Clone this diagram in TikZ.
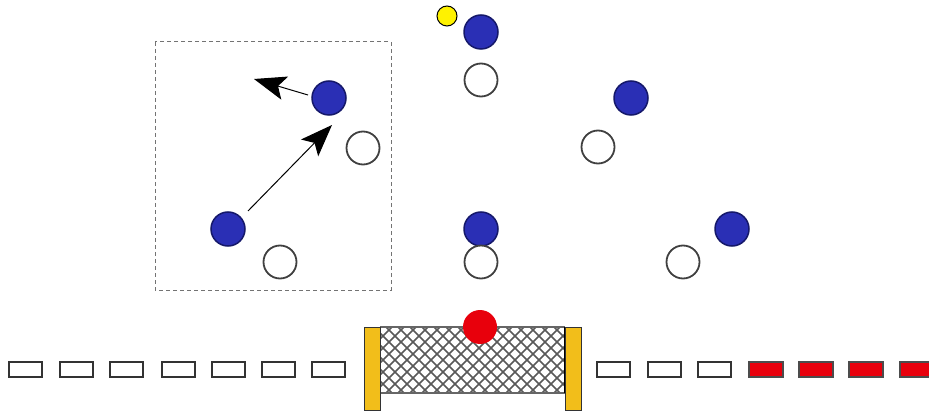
\documentclass[tikz,border=0pt]{standalone}
\usetikzlibrary{arrows.meta}
\definecolor{pblue}{HTML}{2A2FB5}
\definecolor{pblueD}{HTML}{15186A}
\definecolor{postY}{HTML}{F2BE1A}
\definecolor{lred}{HTML}{E8000C}
\tikzset{
  bluep/.style={circle,draw=pblueD,fill=pblue,line width=1.5pt,minimum size=34pt,inner sep=0pt},
  whitep/.style={circle,draw=black!75,fill=white,line width=1.8pt,minimum size=33pt,inner sep=0pt},
  yball/.style={circle,draw=black,fill=yellow,line width=1pt,minimum size=20pt,inner sep=0pt},
  rball/.style={circle,draw=none,fill=lred,minimum size=34pt,inner sep=0pt},
  wdash/.style={draw=black!80,fill=white,line width=2pt},
  rdash/.style={draw=black!70,fill=lred,line width=2pt},
  post/.style={draw=black!80,fill=postY,line width=1pt},
  netline/.style={draw=black!65,line width=1.5pt},
  mvarrow/.style={draw=black,line width=1pt,-{Stealth[length=32pt,width=24pt,inset=7pt]}},
  zone/.style={draw=black!55,line width=1pt,dash pattern=on 4pt off 3pt}
}
\begin{document}
\begin{tikzpicture}[x=1pt,y=-1pt]
\useasboundingbox (0,0) rectangle (929,414);
% zone
\draw[zone] (155,42) rectangle (391,290);
% net
\begin{scope}
  \clip (380,327) rectangle (565,393);
  \foreach \s in {0,12,...,264} {
    \draw[netline] (314+\s,393) -- ++(66,-66);
    \draw[netline] (314+\s,327) -- ++(66,66);
  }
\end{scope}
\draw[black!60,line width=1.5pt] (380,327) -- (565,327);
\draw[black!60,line width=1.5pt] (380,393) -- (565,393);
\draw[black,line width=1.8pt] (380,327) -- (380,393);
\draw[black,line width=1.8pt] (565,327) -- (565,393);
\draw[post] (364,327) rectangle (380,410);
\draw[post] (565,327) rectangle (581,410);
% ball
\node[rball] (ball) at (480,327) {};
% line dashes
\foreach \x in {9,60,110,162,212,262,312,597,648,698} {
  \draw[wdash] (\x,362) rectangle ++(33,15);
}
\foreach \x in {749,799,849,900} {
  \draw[rdash] (\x,362) rectangle ++(34,15);
}
% players
\node[yball] (y) at (447,16) {};
\node[bluep] (b1) at (329,98) {};
\node[bluep] (b2) at (228,229) {};
\node[bluep] (b3) at (481,32) {};
\node[bluep] (b4) at (481,229) {};
\node[bluep] (b5) at (631,98) {};
\node[bluep] (b6) at (732,229) {};
\node[whitep] (w1) at (363,148) {};
\node[whitep] (w2) at (280,262) {};
\node[whitep] (w3) at (481,80) {};
\node[whitep] (w4) at (481,262) {};
\node[whitep] (w5) at (598,147) {};
\node[whitep] (w6) at (683,262) {};
% arrows
\coordinate (a1s) at (248,211);
\coordinate (a1e) at (332,125);
\coordinate (a2s) at (308,95);
\coordinate (a2e) at (254,79);
\draw[mvarrow] (a1s) -- (a1e);
\draw[mvarrow] (a2s) -- (a2e);
\end{tikzpicture}
\end{document}
